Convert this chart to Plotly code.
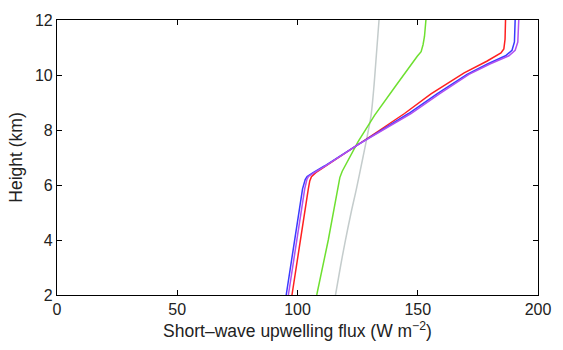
import plotly.graph_objects as go

# Heights (km) and short-wave upwelling flux (W m-2) per profile
h_red = [2, 4, 5.86, 6.15, 6.3, 6.45, 6.69, 7.46, 8.0, 8.6, 9.31, 10.08, 10.5, 10.8, 10.95, 11.3, 12]
x_red = [97.7, 101.1, 104.5, 105.1, 105.8, 107.6, 111.8, 125.0, 134.3, 144.5, 155.5, 169.3, 178.7, 184.6, 185.8, 186.3, 186.5]

h_blue = [2, 4, 5.86, 6.2, 6.31, 6.45, 6.69, 7.46, 8.0, 8.6, 9.31, 10.02, 10.4, 10.7, 10.9, 11.2, 12]
x_blue = [95.3, 98.8, 102.1, 103.2, 104.0, 106.5, 111.2, 125.0, 135.2, 146.2, 158.0, 170.5, 179.0, 186.5, 189.2, 190.2, 190.5]

h_purple = [2, 4, 5.86, 6.2, 6.31, 6.45, 6.69, 7.46, 8.0, 8.6, 9.31, 10.02, 10.4, 10.7, 10.9, 11.2, 12]
x_purple = [96.2, 99.7, 103.0, 103.9, 104.6, 107.0, 111.5, 125.0, 135.6, 147.2, 159.0, 171.3, 180.0, 187.9, 190.5, 191.6, 192.0]

h_green = [2, 4, 6.27, 6.5, 7.58, 8.54, 9.6, 10.4, 10.68, 10.85, 11.1, 11.4, 12]
x_green = [108.0, 112.8, 117.6, 118.6, 125.2, 132.1, 140.8, 147.2, 149.8, 151.4, 152.2, 152.8, 153.4]

h_grey = [2, 3, 3.89, 5, 5.86, 7, 8, 8.54, 9.5, 10.5, 12]
x_grey = [115.8, 117.8, 119.7, 122.3, 124.5, 127.2, 129.5, 130.6, 131.7, 132.6, 133.9]

x_ticks = [0, 50, 100, 150, 200]
y_ticks = [2, 4, 6, 8, 10, 12]

FONT = "Liberation Sans, Arial, Helvetica"

fig = go.Figure()
series = [
    (x_grey, h_grey, "#c4cccc", "spline"),
    (x_green, h_green, "#6ee030", "linear"),
    (x_red, h_red, "#ff2020", "linear"),
    (x_blue, h_blue, "#3a3aff", "linear"),
    (x_purple, h_purple, "#b050f0", "linear"),
]
for xs, hs, c, shp in series:
    fig.add_trace(go.Scatter(x=xs, y=hs, mode="lines",
                             line=dict(color=c, width=1.5, shape=shp), showlegend=False))

axis_common = dict(showgrid=False, zeroline=False, showline=True, linecolor="black",
                   linewidth=1.2, mirror="ticks", ticks="inside", ticklen=5,
                   tickcolor="black", tickfont=dict(family=FONT, size=16, color="#222"))
fig.update_xaxes(range=[0, 200], tickvals=x_ticks, **axis_common,
                 title=dict(text="Short\u2013wave upwelling flux (W m<sup>\u22122</sup>)",
                            font=dict(family=FONT, size=17.5, color="#222"), standoff=7))
fig.update_yaxes(range=[2, 12], tickvals=y_ticks, **axis_common,
                 title=dict(text="Height (km)",
                            font=dict(family=FONT, size=17.5, color="#222"), standoff=7))
fig.update_layout(width=563, height=350, margin=dict(l=57, r=22, t=17, b=52),
                  plot_bgcolor="white", paper_bgcolor="white")
fig.write_html("out.html")
